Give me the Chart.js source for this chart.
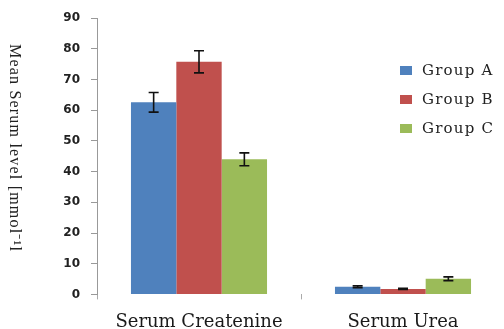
<!DOCTYPE html>
<html>
<head>
<meta charset="utf-8">
<script src="https://cdn.jsdelivr.net/npm/chart.js@4"></script>
<style>
  html, body { margin: 0; padding: 0; background: #fff; overflow: hidden; }
  #wrap { position: relative; width: 510px; height: 345px; }
  #yTitle {
    position: absolute; left: 4px; top: 44px;
    writing-mode: vertical-rl;
    font-family: "Liberation Serif", serif; font-size: 16px; letter-spacing: 1.2px;
    color: #222; white-space: nowrap;
  }
  #legend { position: absolute; left: 400px; top: 61px; }
  .item { height: 29px; display: flex; align-items: flex-start; }
  .box { width: 12px; height: 9px; margin-top: 5px; margin-right: 10px; }
  .lbl { font-family: "DejaVu Serif", serif; font-size: 15px; letter-spacing: 1.2px; color: #222; line-height: 18px; }
</style>
</head>
<body>
<div id="wrap">
  <canvas id="chart" width="510" height="345"></canvas>
  <div id="yTitle">Mean Serum level [mmol⁻¹l</div>
  <div id="legend"></div>
</div>
<script>
// données
const categories = ['Serum Createnine', 'Serum Urea'];
const groupNames = ['Group A', 'Group B', 'Group C'];
const groupColors = ['#4F81BD', '#C0504D', '#9BBB59'];
const groupA = [62.6, 2.5];
const groupB = [75.8, 1.8];
const groupC = [44.0, 5.1];
const errA = [3.2, 0.3];
const errB = [3.6, 0.2];
const errC = [2.1, 0.6];
const yTicks = [0, 10, 20, 30, 40, 50, 60, 70, 80, 90];

const seriesValues = [groupA, groupB, groupC];
const seriesErrors = [errA, errB, errC];

// barres d'erreur dessinées avec les échelles du graphique
const errorBars = {
    id: 'errorBars',
    afterDatasetsDraw(chart) {
        const ctx = chart.ctx;
        const y = chart.scales.y;
        ctx.save();
        ctx.strokeStyle = '#111';
        ctx.lineWidth = 1.6;
        chart.data.datasets.forEach((ds, i) => {
            const meta = chart.getDatasetMeta(i);
            meta.data.forEach((bar, j) => {
                const v = ds.data[j];
                const e = seriesErrors[i][j];
                const top = y.getPixelForValue(v + e);
                const bot = y.getPixelForValue(v - e);
                const x = bar.x;
                ctx.beginPath();
                ctx.moveTo(x, top); ctx.lineTo(x, bot);
                ctx.moveTo(x - 5, top); ctx.lineTo(x + 5, top);
                ctx.moveTo(x - 5, bot); ctx.lineTo(x + 5, bot);
                ctx.stroke();
            });
        });
        ctx.restore();
    }
};

const chart = new Chart(document.getElementById('chart'), {
    type: 'bar',
    data: {
        labels: categories,
        datasets: groupNames.map((name, i) => ({
            label: name,
            data: seriesValues[i],
            backgroundColor: groupColors[i],
            borderWidth: 0,
            barPercentage: 1,
            categoryPercentage: 0.667
        }))
    },
    options: {
        responsive: false,
        animation: false,
        layout: { padding: { left: 37, top: 18, right: 5, bottom: 0 } },
        plugins: { legend: { display: false }, tooltip: { enabled: false } },
        scales: {
            x: {
                grid: { display: true, drawOnChartArea: false, offset: true, tickLength: 5, color: '#aaa' },
                border: { display: false },
                ticks: { padding: 12, color: '#1a1a1a', font: { family: 'DejaVu Serif', size: 18 } }
            },
            y: {
                min: 0, max: 90,
                afterBuildTicks: (s) => { s.ticks = yTicks.map(v => ({ value: v })); },
                afterFit: (s) => { s.width = 60; },
                grid: { drawOnChartArea: false, tickLength: 6, color: '#999' },
                border: { color: '#999' },
                ticks: { padding: 11, color: '#222', font: { family: 'DejaVu Sans', size: 12, weight: 'bold' } }
            }
        }
    },
    plugins: [errorBars]
});

// légende à droite, par-dessus la zone du graphique
document.getElementById('legend').innerHTML = groupNames.map((n, i) =>
    `<div class="item"><span class="box" style="background:${groupColors[i]}"></span><span class="lbl">${n}</span></div>`
).join('');
</script>
</body>
</html>
